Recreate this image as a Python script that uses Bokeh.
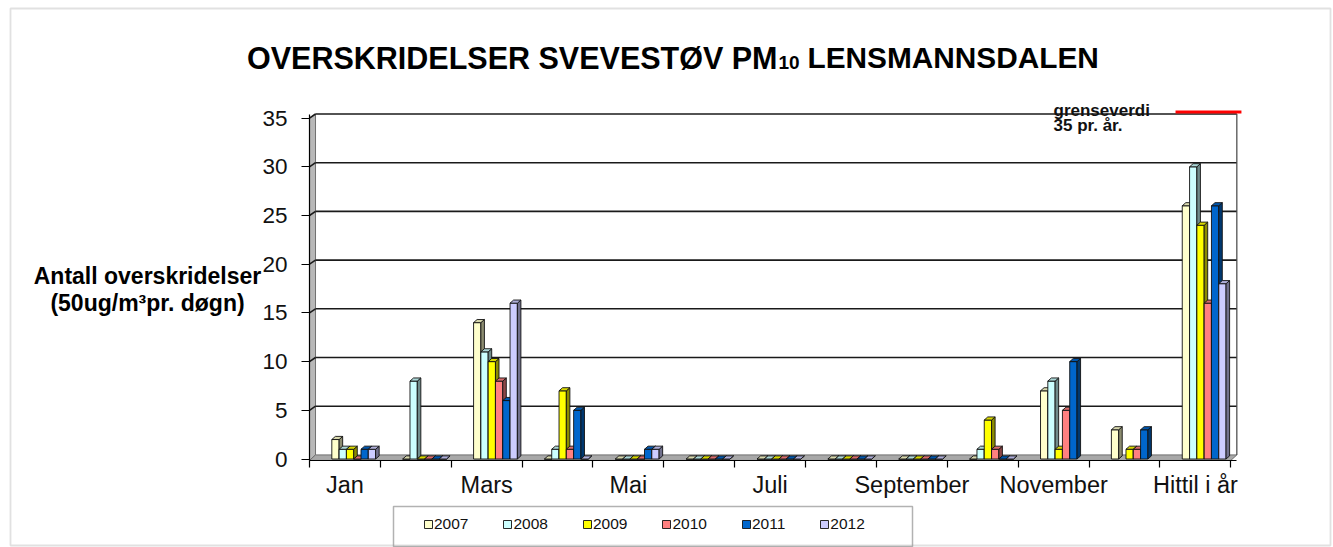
import numpy as np
from bokeh.plotting import figure
from bokeh.models import (ColumnDataSource, FixedTicker, Label, Legend, LegendItem,
                          BoxAnnotation, Range1d)
from bokeh.embed import file_html
from bokeh.resources import INLINE

# ---------------- data ----------------
categories = ["Jan", "Feb", "Mars", "April", "Mai", "Juni", "Juli", "August",
              "September", "Oktober", "November", "Desember", "Hittil i år"]
shown_labels = ["Jan", "Mars", "Mai", "Juli", "September", "November", "Hittil i år"]
years = ["2007", "2008", "2009", "2010", "2011", "2012"]
v2007 = [2, 0, 14, 0, 0, 0, 0, 0, 0, 0, 7, 3, 26]
v2008 = [1, 8, 11, 1, 0, 0, 0, 0, 0, 1, 8, None, 30]
v2009 = [1, 0, 10, 7, 0, 0, 0, 0, 0, 4, 1, 1, 24]
v2010 = [0, 0, 8, 1, 0, 0, 0, 0, 0, 1, 5, 1, 16]
v2011 = [1, 0, 6, 5, 1, 0, 0, 0, 0, 0, 10, 3, 26]
v2012 = [1, 0, 16, 0, 1, 0, 0, 0, 0, 0, None, None, 18]
series = [v2007, v2008, v2009, v2010, v2011, v2012]
y_ticks = [0, 5, 10, 15, 20, 25, 30, 35]
threshold = 35
threshold_text = ["grenseverdi", "35 pr. år."]
title_parts = ["OVERSKRIDELSER SVEVESTØV PM", "10", "LENSMANNSDALEN"]
ylabel_lines = ["Antall overskridelser", "(50ug/m³pr. døgn)"]

colors = ["#FFFFCC", "#CCFFFF", "#FFFF00", "#FF8080", "#0066CC", "#CCCCFF"]


def shade(hexcol, f):
    h = hexcol.lstrip("#")
    r, g, b = [int(h[i:i + 2], 16) for i in (0, 2, 4)]
    return "#%02x%02x%02x" % (int(r * f), int(g * f), int(b * f))


FONT = "Liberation Sans"
n = len(categories)

# ---------------- figure (frame covers the whole canvas) ----------------
W, H = 1333, 547
PX_X = 70.87          # pixels per category
PX_Y = 9.74           # pixels per unit
X_LEFT_PX = 309       # pixel of the first category boundary
Y_ZERO_PX = 458.5     # pixel of value 0
xs0 = -0.5 - X_LEFT_PX / PX_X
ys1 = Y_ZERO_PX / PX_Y
p = figure(width=W, height=H, output_backend="svg", toolbar_location=None,
           x_range=Range1d(xs0, xs0 + W / PX_X),
           y_range=Range1d(ys1 - H / PX_Y, ys1),
           min_border=0)
p.xgrid.visible = False
p.ygrid.visible = False
p.outline_line_color = None
p.background_fill_color = "white"
p.border_fill_color = "white"


def sy(page_y):
    return H - page_y


# 3D geometry (style constants)
wdx, wdy = 0.085, 0.42       # wall depth
bw = 0.103                   # bar width
bdx, bdy = 0.05, 0.32        # bar depth
g0 = 0.315                   # group start inside category
floor_front = -0.15

# walls
ytop = y_ticks[-1]
p.patch([-0.5, -0.5 + wdx, -0.5 + wdx, -0.5], [floor_front, wdy, ytop + wdy, ytop],
        fill_color="#B8B8B8", line_color="#707070", line_width=1)
p.patch([-0.5, n - 0.5, n - 0.5 + wdx, -0.5 + wdx], [floor_front, floor_front, wdy, wdy],
        fill_color="#A8A8A8", line_color="#707070", line_width=1)

# gridlines on back wall
gx0 = [-0.5 + wdx] * (len(y_ticks) - 1)
gx1 = [n - 0.5 + wdx] * (len(y_ticks) - 1)
gy = [t + wdy for t in y_ticks[1:]]
p.segment(x0=gx0, y0=gy, x1=gx1, y1=gy, line_color="#1a1a1a", line_width=1.6)
p.segment(x0=[-0.5] * (len(y_ticks) - 1), y0=y_ticks[1:], x1=gx0, y1=gy,
          line_color="#1a1a1a", line_width=1.6)
p.segment(x0=[n - 0.5 + wdx], y0=[wdy], x1=[n - 0.5 + wdx], y1=[ytop + wdy],
          line_color="#444444", line_width=1.2)

# bars
front_renderers = []
for k, vals in enumerate(series):
    idx = [i for i, v in enumerate(vals) if v is not None]
    v = np.array([vals[i] for i in idx], dtype=float)
    x0 = np.array(idx, dtype=float) - 0.5 + g0 + k * bw
    x1 = x0 + bw
    src = ColumnDataSource(dict(left=x0, right=x1, top=v, bottom=np.zeros_like(v)))
    r = p.quad(left="left", right="right", top="top", bottom="bottom", source=src,
               fill_color=colors[k], line_color="#111111", line_width=0.9)
    front_renderers.append(r)
    side_xs = [[a, a, a + bdx, a + bdx] for a in x1]
    side_ys = [[0, t, t + bdy, bdy] for t in v]
    p.patches(side_xs, side_ys, fill_color=shade(colors[k], 0.55),
              line_color="#111111", line_width=0.9)
    top_xs = [[a, a + bdx, b + bdx, b] for a, b in zip(x0, x1)]
    top_ys = [[t, t + bdy, t + bdy, t] for t in v]
    p.patches(top_xs, top_ys, fill_color=shade(colors[k], 0.85),
              line_color="#111111", line_width=0.9)

# threshold line (grenseverdi)
p.segment(x0=[n - 1 - 0.28], y0=[threshold + wdy + 0.2], x1=[n - 0.35],
          y1=[threshold + wdy + 0.2], line_color="#FF0000", line_width=3)

# ---------------- axes (fixed in data space) ----------------
p.xaxis.fixed_location = floor_front
p.yaxis.fixed_location = -0.5
p.xaxis.ticker = FixedTicker(ticks=[i for i, c in enumerate(categories) if c in shown_labels],
                             minor_ticks=[i - 0.5 for i in range(n + 1)])
p.xaxis.major_label_overrides = {i: c for i, c in enumerate(categories)}
p.xaxis.major_tick_line_color = None
p.xaxis.major_tick_out = 7
p.xaxis.major_tick_in = 0
p.xaxis.minor_tick_out = 7
p.xaxis.minor_tick_in = 0
p.xaxis.minor_tick_line_color = "black"
p.xaxis.minor_tick_line_width = 1.2
p.xaxis.major_label_standoff = 5
p.xaxis.bounds = (-0.5, n - 0.5 + wdx)
p.xaxis.major_label_text_font_size = "23.5px"

p.yaxis.ticker = FixedTicker(ticks=y_ticks, minor_ticks=[])
p.yaxis.major_tick_out = 8
p.yaxis.major_tick_in = 0
p.yaxis.major_label_standoff = 14
p.yaxis.bounds = (floor_front, ytop + wdy)
p.yaxis.major_label_text_font_size = "22.5px"

for ax in (p.xaxis, p.yaxis):
    ax.major_label_text_font = FONT
    ax.major_label_text_color = "#111111"
    ax.axis_line_color = "black"
    ax.axis_line_width = 1.2
    ax.major_tick_line_width = 1.2

# ---------------- texts ----------------
p.add_layout(Label(x=777, y=sy(57), x_units="screen", y_units="screen", text=title_parts[0],
                   text_font=FONT, text_font_size="30.5px", text_font_style="bold",
                   text_align="right", text_baseline="alphabetic", text_color="black"))
p.add_layout(Label(x=778, y=sy(62), x_units="screen", y_units="screen", text=title_parts[1],
                   text_font=FONT, text_font_size="19px", text_font_style="bold",
                   text_align="left", text_baseline="alphabetic", text_color="black"))
p.add_layout(Label(x=807, y=sy(57), x_units="screen", y_units="screen", text=title_parts[2],
                   text_font=FONT, text_font_size="29.8px", text_font_style="bold",
                   text_align="left", text_baseline="alphabetic", text_color="black"))

for txt, yy in zip(ylabel_lines, [275, 302]):
    p.add_layout(Label(x=147, y=sy(yy), x_units="screen", y_units="screen", text=txt,
                       text_font=FONT, text_font_size="23px", text_font_style="bold",
                       text_align="center", text_baseline="alphabetic", text_color="black"))

for txt, yy in zip(threshold_text, [110, 125]):
    p.add_layout(Label(x=1053, y=sy(yy), x_units="screen", y_units="screen", text=txt,
                       text_font=FONT, text_font_size="17px", text_font_style="bold",
                       text_align="left", text_baseline="alphabetic", text_color="#111111"))

# ---------------- legend ----------------
p.add_layout(BoxAnnotation(left=393, right=912, top=sy(506), bottom=sy(546),
                           left_units="screen", right_units="screen",
                           top_units="screen", bottom_units="screen",
                           fill_alpha=0, line_color="black", line_width=1.5))
items = [LegendItem(label=y, renderers=[r]) for y, r in zip(years, front_renderers)]
legend = Legend(items=items, orientation="horizontal", location=(423, sy(533)),
                glyph_width=10, glyph_height=10, label_standoff=1, spacing=34,
                padding=5, margin=0, border_line_color=None, background_fill_alpha=0,
                label_text_font=FONT, label_text_font_size="15.5px",
                label_text_color="#111111")
p.add_layout(legend)

# outer chart border
p.add_layout(BoxAnnotation(left=10, right=1330, top=sy(8), bottom=sy(545),
                           left_units="screen", right_units="screen",
                           top_units="screen", bottom_units="screen",
                           fill_alpha=0, line_color="#9a9a9a", line_width=1.8))

open("out.html", "w").write(file_html(p, INLINE))
